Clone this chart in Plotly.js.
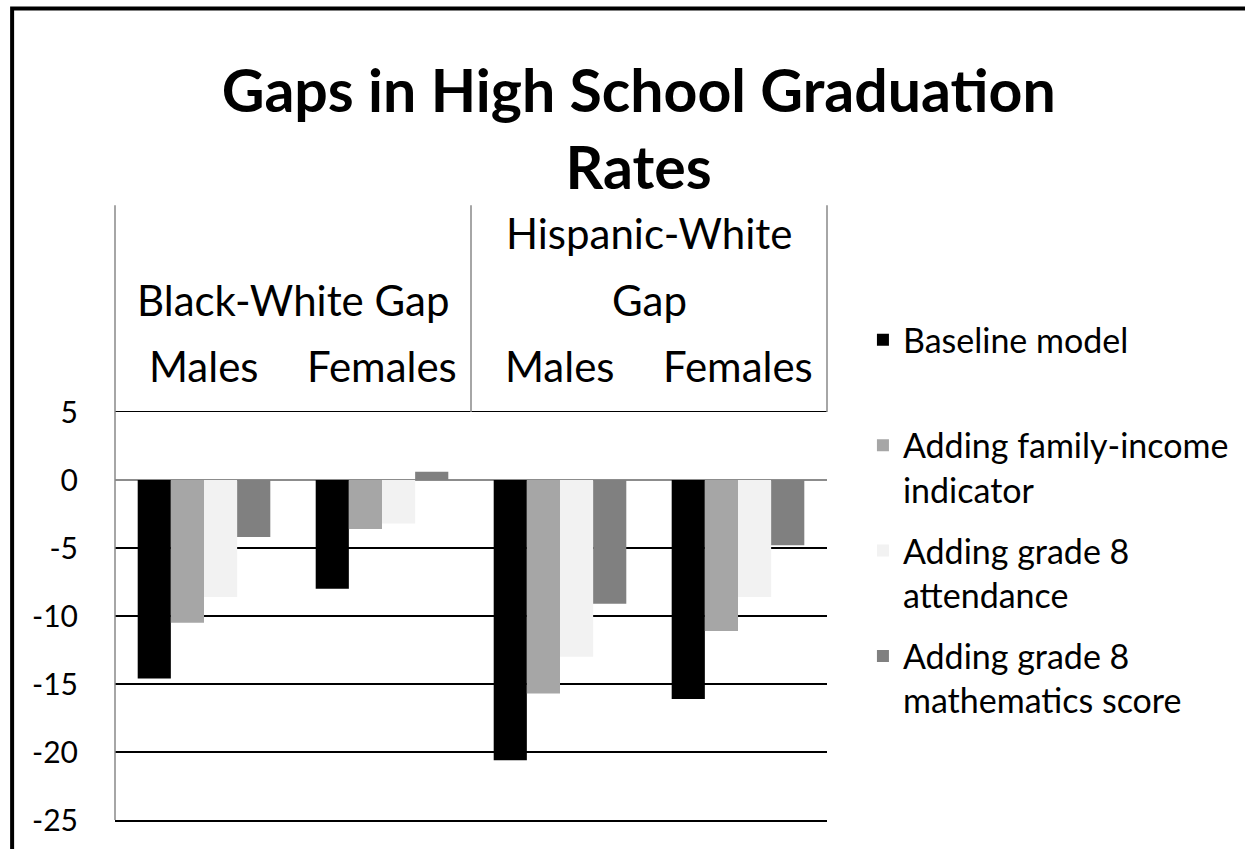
<!DOCTYPE html>
<html>
<head>
<meta charset="utf-8">
<script src="https://cdn.plot.ly/plotly-3.0.1.min.js"></script>
<style>
html,body{margin:0;padding:0;background:#fff;}
#chart{width:1245px;height:849px;}
</style>
</head>
<body>
<div id="chart"></div>
<script>
// ---- data ----
const groups = ['Black-White Gap', 'Black-White Gap', 'Hispanic-White Gap', 'Hispanic-White Gap'];
const subgroups = ['Males', 'Females', 'Males', 'Females'];
const categories = groups.map((g, i) => g + ' | ' + subgroups[i]);

const seriesNames = ['Baseline model', 'Adding family-income indicator', 'Adding grade 8 attendance', 'Adding grade 8 mathematics score'];
const legendLabels = ['Baseline model<br> ', 'Adding family-income<br>indicator', 'Adding grade 8<br>attendance', 'Adding grade 8<br>mathematics score'];
const baseline = [-14.6, -8.0, -20.6, -16.1];
const familyIncome = [-10.5, -3.6, -15.7, -11.1];
const attendance = [-8.6, -3.2, -13.0, -8.6];
const mathScore = [-4.2, 0.6, -9.1, -4.8];
const seriesValues = [baseline, familyIncome, attendance, mathScore];
const seriesColors = ['#000000', '#a6a6a6', '#f2f2f2', '#808080'];

const yTicks = [5, 0, -5, -10, -15, -20, -25];

const FONT = 'Lato, "Open Sans", sans-serif';
const CAT_SIZE = 42;

const traces = seriesValues.map((vals, i) => ({
  type: 'bar',
  name: legendLabels[i],
  x: categories,
  y: vals,
  marker: {color: seriesColors[i], line: {width: 0}},
  legendgroup: 'g' + i,
  hovertext: seriesNames[i]
}));

const annotations = [];
categories.forEach((c, i) => {
  annotations.push({xref: 'x', yref: 'paper', x: c, y: 1.113, text: subgroups[i],
    showarrow: false, font: {family: FONT, size: CAT_SIZE, color: '#000'}, xanchor: 'center', yanchor: 'middle'});
});
annotations.push({xref: 'x', yref: 'paper', x: 0.5, y: 1.275, text: 'Black-White Gap',
  showarrow: false, font: {family: FONT, size: CAT_SIZE, color: '#000'}, xanchor: 'center', yanchor: 'middle'});
annotations.push({xref: 'x', yref: 'paper', x: 2.5, y: 1.439, text: 'Hispanic-White',
  showarrow: false, font: {family: FONT, size: CAT_SIZE, color: '#000'}, xanchor: 'center', yanchor: 'middle'});
annotations.push({xref: 'x', yref: 'paper', x: 2.5, y: 1.275, text: 'Gap',
  showarrow: false, font: {family: FONT, size: CAT_SIZE, color: '#000'}, xanchor: 'center', yanchor: 'middle'});

const sepTop = 1.507;
const shapes = [
  {type: 'line', xref: 'paper', yref: 'paper', x0: 0, x1: 0, y0: 0, y1: sepTop, line: {color: '#888', width: 1.5}},
  {type: 'line', xref: 'paper', yref: 'paper', x0: 0.5, x1: 0.5, y0: 1, y1: sepTop, line: {color: '#888', width: 1.5}},
  {type: 'line', xref: 'paper', yref: 'paper', x0: 1, x1: 1, y0: 1, y1: sepTop, line: {color: '#888', width: 1.5}},
  // outer frame (left and top edges visible)
  {type: 'rect', xref: 'paper', yref: 'paper', x0: -0.1445, x1: 2, y0: -1, y1: 1.989, line: {color: '#000', width: 4}}
];

const layout = {
  width: 1245, height: 849,
  paper_bgcolor: '#fff', plot_bgcolor: '#fff',
  margin: {l: 115, r: 417, t: 412, b: 29},
  font: {family: FONT, color: '#000'},
  title: {
    text: '<b>Gaps in High School Graduation<br>Rates</b>',
    font: {family: FONT, size: 59, color: '#000'},
    xref: 'container', x: 0.513, xanchor: 'center',
    yref: 'container', y: 0.868, yanchor: 'top'
  },
  barmode: 'group', bargap: 0.255, bargroupgap: 0,
  xaxis: {type: 'category', showticklabels: false, showgrid: false, zeroline: false,
    showline: true, mirror: true, linecolor: '#000', linewidth: 1.5, ticks: ''},
  yaxis: {
    range: [-25, 5], tickvals: yTicks, ticktext: yTicks.map(String),
    showgrid: true, gridcolor: '#000', gridwidth: 1.5,
    zeroline: true, zerolinecolor: '#8c8c8c', zerolinewidth: 1.5,
    showline: false, ticks: '', ticklabelstandoff: 36,
    tickfont: {family: FONT, size: 30, color: '#000'}
  },
  showlegend: true,
  legend: {
    x: 1.049, xanchor: 'left', y: 1.247, yanchor: 'top',
    font: {family: FONT, size: 34, color: '#000'},
    valign: 'top', tracegroupgap: 14, traceorder: 'grouped',
    bgcolor: 'rgba(0,0,0,0)'
  },
  annotations: annotations,
  shapes: shapes
};

Plotly.newPlot('chart', traces, layout, {displayModeBar: false, staticPlot: true});
</script>
</body>
</html>
